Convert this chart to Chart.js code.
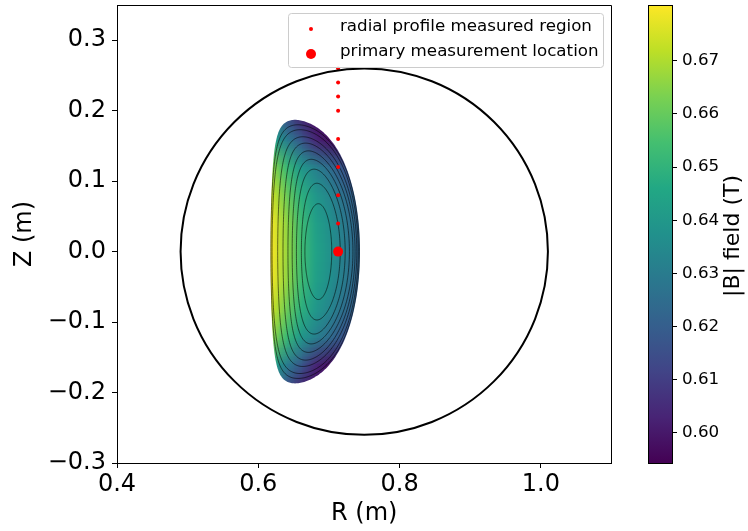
<!DOCTYPE html>
<html>
<head>
<meta charset="utf-8">
<script src="https://cdn.jsdelivr.net/npm/chart.js@4.4.1/dist/chart.umd.min.js"></script>
<style>
  html, body { margin: 0; padding: 0; background: #fff; }
  #wrap { position: relative; width: 748px; height: 531px; }
  #main { position: absolute; left: 0; top: 0; }
  #cbar { position: absolute; left: 620px; top: 0; }
</style>
</head>
<body>
<div id="wrap">
  <canvas id="main" width="748" height="531"></canvas>
  <canvas id="cbar" width="128" height="531"></canvas>
</div>
<script>
// measurement locations
const profileR = [0.713, 0.713, 0.713, 0.713, 0.713, 0.713, 0.713, 0.713];
const profileZ = [0.04, 0.08, 0.12, 0.16, 0.20, 0.22, 0.24, 0.26];
const primaryR = [0.713];
const primaryZ = [0.0];

// vessel wall (circle)
const wallR0 = 0.75, wallZ0 = 0.0, wallRadius = 0.26;

// axis ticks
const xTicks = [0.4, 0.6, 0.8, 1.0];
const yTicks = [-0.3, -0.2, -0.1, 0.0, 0.1, 0.2, 0.3];
const cbTicks = [0.60, 0.61, 0.62, 0.63, 0.64, 0.65, 0.66, 0.67];
const cbMin = 0.5943, cbMax = 0.6805;

// last closed flux surface (edge of the coloured region)
const lcfs = { rin: 0.6175, rout: 0.744, ztop: 0.187, rtip: 0.652, square: 0.15 };

// flux surface contours, outer to inner
const fluxRin    = [0.6178, 0.6195, 0.6275, 0.635, 0.642, 0.648, 0.654, 0.661, 0.666];
const fluxRout   = [0.743, 0.7415, 0.7395, 0.737, 0.734, 0.729, 0.723, 0.716, 0.704];
const fluxZtop   = [0.180, 0.173, 0.163, 0.154, 0.143, 0.131, 0.117, 0.097, 0.068];
const fluxRtip   = [0.656, 0.659, 0.663, 0.667, 0.671, 0.675, 0.679, 0.683, 0.685];
const fluxSquare = [0.14, 0.12, 0.10, 0.08, 0.06, 0.05, 0.03, 0.02, 0.0];

// |B| field samples (T), rows = Z, columns = R
const gridR = [0.60, 0.62, 0.64, 0.66, 0.68, 0.70, 0.72, 0.74, 0.76];
const gridZ = [0.20, 0.16, 0.12, 0.08, 0.04, 0.00, -0.04, -0.08, -0.12, -0.16, -0.20];
const gridB = [
  [0.638, 0.628, 0.612, 0.600, 0.595, 0.595, 0.595, 0.595, 0.595],
  [0.652, 0.643, 0.630, 0.618, 0.604, 0.598, 0.596, 0.595, 0.595],
  [0.673, 0.665, 0.652, 0.640, 0.632, 0.625, 0.617, 0.610, 0.604],
  [0.680, 0.673, 0.661, 0.649, 0.640, 0.634, 0.626, 0.619, 0.613],
  [0.684, 0.678, 0.666, 0.653, 0.643, 0.637, 0.630, 0.622, 0.616],
  [0.685, 0.679, 0.667, 0.654, 0.644, 0.638, 0.631, 0.623, 0.617],
  [0.684, 0.678, 0.666, 0.653, 0.643, 0.637, 0.630, 0.622, 0.616],
  [0.680, 0.673, 0.661, 0.649, 0.640, 0.634, 0.626, 0.619, 0.613],
  [0.673, 0.665, 0.652, 0.640, 0.632, 0.625, 0.617, 0.610, 0.604],
  [0.652, 0.643, 0.630, 0.618, 0.604, 0.598, 0.596, 0.595, 0.595],
  [0.638, 0.628, 0.612, 0.600, 0.595, 0.595, 0.595, 0.595, 0.595]
];

// viridis colour stops
const viridis = ['#440154', '#482475', '#414487', '#355f8d', '#2a788e', '#21918c',
                 '#22a884', '#44bf70', '#7ad151', '#bddf26', '#fde725'];

Chart.defaults.font.family = '"DejaVu Sans", sans-serif';
Chart.defaults.color = '#000';

function hexRgb(h) {
  return [parseInt(h.slice(1, 3), 16), parseInt(h.slice(3, 5), 16), parseInt(h.slice(5, 7), 16)];
}

function colorFor(v) {
  let t = (v - cbMin) / (cbMax - cbMin);
  t = Math.max(0, Math.min(1, t)) * (viridis.length - 1);
  const i = Math.min(Math.floor(t), viridis.length - 2), f = t - i;
  const a = hexRgb(viridis[i]), b = hexRgb(viridis[i + 1]);
  return a.map((c, k) => Math.round(c + (b[k] - c) * f));
}

// D-shaped surface from its inner/outer radius, height, tip position and squareness
function surfacePath(ctx, xs, ys, s) {
  const r0 = (s.rin + s.rout) / 2, a = (s.rout - s.rin) / 2;
  const kappa = s.ztop / a, delta = Math.asin((r0 - s.rtip) / a);
  ctx.beginPath();
  for (let i = 0; i <= 240; i++) {
    const th = i / 240 * 2 * Math.PI;
    const r = r0 + a * Math.cos(th + delta * Math.sin(th));
    const z = kappa * a * Math.sin(th + s.square * Math.sin(2 * th));
    const px = xs.getPixelForValue(r), py = ys.getPixelForValue(z);
    if (i === 0) ctx.moveTo(px, py); else ctx.lineTo(px, py);
  }
  ctx.closePath();
}

const fieldPlugin = {
  id: 'field',
  beforeDatasetsDraw(chart) {
    const { ctx, scales: { x, y } } = chart;
    const off = document.createElement('canvas');
    off.width = gridR.length;
    off.height = gridZ.length;
    const octx = off.getContext('2d');
    const img = octx.createImageData(off.width, off.height);
    gridB.forEach((row, j) => row.forEach((v, i) => {
      const c = colorFor(v), k = (j * off.width + i) * 4;
      img.data[k] = c[0]; img.data[k + 1] = c[1]; img.data[k + 2] = c[2]; img.data[k + 3] = 255;
    }));
    octx.putImageData(img, 0, 0);

    const dR = gridR[1] - gridR[0], dZ = gridZ[0] - gridZ[1];
    const x0 = x.getPixelForValue(gridR[0] - dR / 2);
    const x1 = x.getPixelForValue(gridR[gridR.length - 1] + dR / 2);
    const y0 = y.getPixelForValue(gridZ[0] + dZ / 2);
    const y1 = y.getPixelForValue(gridZ[gridZ.length - 1] - dZ / 2);

    ctx.save();
    surfacePath(ctx, x, y, lcfs);
    ctx.clip();
    ctx.imageSmoothingEnabled = true;
    ctx.drawImage(off, x0, y0, x1 - x0, y1 - y0);
    ctx.restore();

    ctx.save();
    ctx.strokeStyle = 'rgba(0,0,0,0.55)';
    ctx.lineWidth = 1;
    fluxRin.forEach((rin, i) => {
      surfacePath(ctx, x, y, { rin: rin, rout: fluxRout[i], ztop: fluxZtop[i], rtip: fluxRtip[i], square: fluxSquare[i] });
      ctx.stroke();
    });
    ctx.restore();
  }
};

const wallPlugin = {
  id: 'wall',
  afterDatasetsDraw(chart) {
    const { ctx, chartArea: ca, scales: { x, y } } = chart;
    const cx = x.getPixelForValue(wallR0), cy = y.getPixelForValue(wallZ0);
    const rx = x.getPixelForValue(wallR0 + wallRadius) - cx;
    const ry = cy - y.getPixelForValue(wallZ0 + wallRadius);
    ctx.save();
    ctx.strokeStyle = '#000';
    ctx.lineWidth = 2;
    ctx.beginPath();
    ctx.ellipse(cx, cy, rx, ry, 0, 0, 2 * Math.PI);
    ctx.stroke();
    // top and right spines
    ctx.lineWidth = 1;
    ctx.beginPath();
    ctx.moveTo(Math.round(ca.left) + 0.5, Math.round(ca.top) + 0.5);
    ctx.lineTo(Math.floor(ca.right) + 0.5, Math.round(ca.top) + 0.5);
    ctx.lineTo(Math.floor(ca.right) + 0.5, Math.round(ca.bottom) + 0.5);
    ctx.stroke();
    ctx.restore();
  }
};

const legendRowY = [27, 52];
const legendPlugin = {
  id: 'boxLegend',
  afterDraw(chart) {
    const ctx = chart.ctx;
    ctx.save();
    ctx.beginPath();
    ctx.roundRect(288.5, 13.5, 315, 54, 3);
    ctx.fillStyle = 'rgba(255,255,255,0.8)';
    ctx.fill();
    ctx.strokeStyle = '#cccccc';
    ctx.lineWidth = 1;
    ctx.stroke();
    ctx.font = '16.7px "DejaVu Sans"';
    ctx.textBaseline = 'middle';
    chart.data.datasets.forEach((ds, i) => {
      const cy = legendRowY[i];
      ctx.beginPath();
      ctx.arc(311, cy + 2, ds.pointRadius, 0, 2 * Math.PI);
      ctx.fillStyle = ds.backgroundColor;
      ctx.fill();
      ctx.fillStyle = '#000';
      ctx.fillText(ds.label, 340, cy);
    });
    ctx.restore();
  }
};

const fmt = v => v.toFixed(1).replace('-', '\u2212');
const axisGrid = { display: true, drawOnChartArea: false, drawTicks: true, tickLength: 5, color: '#000', lineWidth: 1 };

new Chart(document.getElementById('main'), {
  type: 'scatter',
  data: {
    datasets: [
      {
        label: 'radial profile measured region',
        data: profileR.map((r, i) => ({ x: r, y: profileZ[i] })),
        backgroundColor: '#ff0000', borderWidth: 0, pointRadius: 2, pointHoverRadius: 2
      },
      {
        label: 'primary measurement location',
        data: primaryR.map((r, i) => ({ x: r, y: primaryZ[i] })),
        backgroundColor: '#ff0000', borderWidth: 0, pointRadius: 5, pointHoverRadius: 5
      }
    ]
  },
  options: {
    responsive: false,
    animation: false,
    events: [],
    layout: { padding: { top: 5, right: 136.5, left: 0, bottom: 0 } },
    plugins: { legend: { display: false }, tooltip: { enabled: false } },
    scales: {
      x: {
        type: 'linear', min: 0.4, max: 1.1,
        afterBuildTicks: s => { s.ticks = xTicks.map(v => ({ value: v })); },
        afterFit: s => { s.height = 68; s.paddingLeft = 0; s.paddingRight = 0; },
        grid: axisGrid,
        border: { display: true, color: '#000', width: 1 },
        ticks: { font: { size: 24 }, color: '#000', padding: 2, maxRotation: 0, autoSkip: false, callback: v => fmt(v) },
        title: { display: true, text: 'R (m)', font: { size: 24 }, color: '#000', padding: { top: 0, bottom: 3 } }
      },
      y: {
        type: 'linear', min: -0.3, max: 0.35,
        afterBuildTicks: s => { s.ticks = yTicks.map(v => ({ value: v })); },
        afterFit: s => { s.width = 117; s.paddingTop = 0; s.paddingBottom = 0; },
        grid: axisGrid,
        border: { display: true, color: '#000', width: 1 },
        ticks: { font: { size: 24 }, color: '#000', padding: 6, autoSkip: false, callback: v => fmt(v) },
        title: { display: true, text: 'Z (m)', font: { size: 24 }, color: '#000', padding: { top: 10, bottom: 0 } }
      }
    }
  },
  plugins: [fieldPlugin, wallPlugin, legendPlugin]
});

const colorbarPlugin = {
  id: 'colorbar',
  beforeDatasetsDraw(chart) {
    const { ctx, chartArea: ca, scales: { y } } = chart;
    const g = ctx.createLinearGradient(0, y.getPixelForValue(cbMin), 0, y.getPixelForValue(cbMax));
    viridis.forEach((c, i) => g.addColorStop(i / (viridis.length - 1), c));
    ctx.save();
    ctx.fillStyle = g;
    ctx.fillRect(ca.left, ca.top, ca.right - ca.left, ca.bottom - ca.top);
    ctx.strokeStyle = '#000';
    ctx.lineWidth = 1;
    ctx.strokeRect(Math.round(ca.left) + 0.5, Math.round(ca.top) + 0.5,
                   Math.round(ca.right - ca.left), Math.round(ca.bottom - ca.top));
    ctx.font = '22px "DejaVu Sans"';
    ctx.fillStyle = '#000';
    ctx.textAlign = 'center';
    ctx.textBaseline = 'middle';
    ctx.translate(113, 236);
    ctx.rotate(-Math.PI / 2);
    ctx.fillText('|B| field (T)', 0, 0);
    ctx.restore();
  }
};

new Chart(document.getElementById('cbar'), {
  type: 'scatter',
  data: { datasets: [] },
  options: {
    responsive: false,
    animation: false,
    events: [],
    layout: { padding: { left: 28, top: 5, bottom: 68, right: 0 } },
    plugins: { legend: { display: false }, tooltip: { enabled: false } },
    scales: {
      x: { display: false, min: 0, max: 1 },
      y: {
        type: 'linear', position: 'right', min: cbMin, max: cbMax,
        afterBuildTicks: s => { s.ticks = cbTicks.map(v => ({ value: v })); },
        afterFit: s => { s.width = 76; s.paddingTop = 0; s.paddingBottom = 0; },
        grid: axisGrid,
        border: { display: true, color: '#000', width: 1 },
        ticks: { font: { size: 16.7 }, color: '#000', padding: 5, autoSkip: false, callback: v => v.toFixed(2) }
      }
    }
  },
  plugins: [colorbarPlugin]
});
</script>
</body>
</html>
